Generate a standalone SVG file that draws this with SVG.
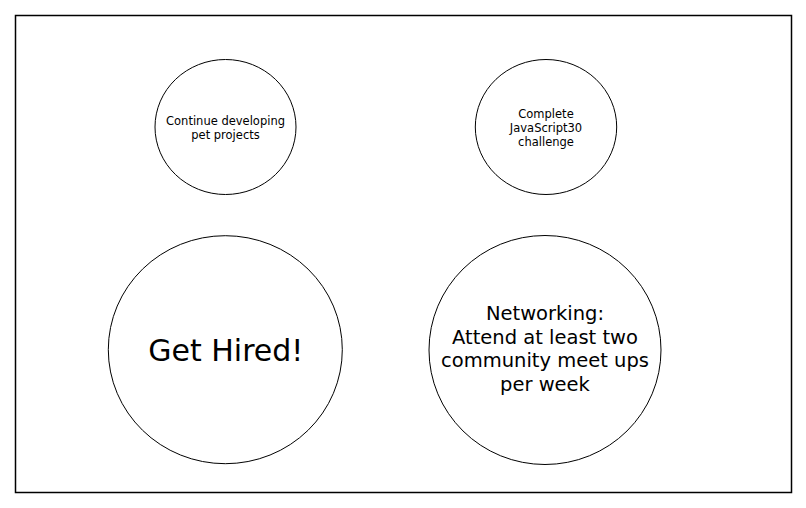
<svg xmlns="http://www.w3.org/2000/svg" width="806" height="508" viewBox="0 0 806 508">
<style>
.node ellipse{fill:#fff;stroke:#000;stroke-width:1}
text{font-family:"DejaVu Sans","Liberation Sans",sans-serif;fill:#000;text-anchor:middle}
.s{font-size:11.5px}
.m{font-size:19.5px}
.l{font-size:30px}
</style>
<rect x="0" y="0" width="806" height="508" fill="#fff"/>
<rect id="frame" x="15.5" y="15.5" width="776" height="477" fill="#fff" stroke="#000" stroke-width="1.5"/>
<g id="connectors"></g>
<g id="node-pet" class="node">
<ellipse cx="225.5" cy="127" rx="70.5" ry="67.5"/>
<text class="s" x="225.5" y="125">Continue developing</text>
<text class="s" x="225.5" y="139">pet projects</text>
</g>
<g id="node-js30" class="node">
<ellipse cx="546" cy="127" rx="70.7" ry="67.5"/>
<text class="s" x="546" y="118">Complete</text>
<text class="s" x="546" y="132">JavaScript30</text>
<text class="s" x="546" y="146">challenge</text>
</g>
<g id="node-hired" class="node">
<ellipse cx="225.3" cy="349.7" rx="117" ry="114"/>
<text class="l" x="225.8" y="361">Get Hired!</text>
</g>
<g id="node-network" class="node">
<ellipse cx="545" cy="350" rx="116" ry="114.5"/>
<text class="m" x="545" y="320">Networking:</text>
<text class="m" x="545" y="344">Attend at least two</text>
<text class="m" x="545" y="367">community meet ups</text>
<text class="m" x="545" y="391">per week</text>
</g>
</svg>
